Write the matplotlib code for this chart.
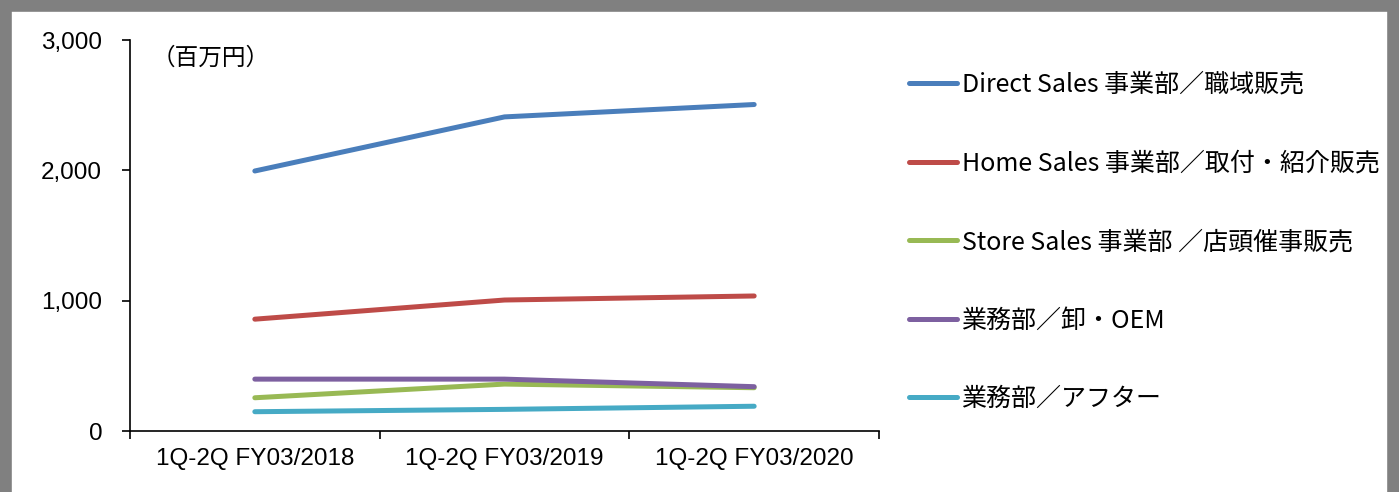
import matplotlib
matplotlib.use("Agg")
import matplotlib.pyplot as plt
from matplotlib.lines import Line2D

plt.rcParams['font.family'] = ['Liberation Sans', 'Noto Sans CJK JP', 'DejaVu Sans']

# 売上高（百万円）
periods = ['1Q-2Q FY03/2018', '1Q-2Q FY03/2019', '1Q-2Q FY03/2020']
direct_sales = [1995, 2410, 2505]
home_sales = [858, 1005, 1036]
store_sales = [255, 360, 332]
oem_sales = [398, 398, 340]
after_sales = [148, 166, 190]

series_names = ['Direct Sales 事業部／職域販売',
                'Home Sales 事業部／取付・紹介販売',
                'Store Sales 事業部 ／店頭催事販売',
                '業務部／卸・OEM',
                '業務部／アフター']
series_values = [direct_sales, home_sales, store_sales, oem_sales, after_sales]
series_colors = ['#4a7ebb', '#be4b48', '#98b954', '#7d60a0', '#46aac5']

W, H = 1399, 492
fig = plt.figure(figsize=(W / 100, H / 100), dpi=100)
ax = fig.add_axes([130 / W, 1 - 431 / H, 749 / W, 391 / H])

x = [0.5, 1.5, 2.5]
for name, vals, col in zip(series_names, series_values, series_colors):
    ax.plot(x, vals, color=col, lw=3.6, solid_capstyle='round', label=name)

ax.set_xlim(0, 3)
ax.set_ylim(0, 3000)
ax.set_yticks([0, 1000, 2000, 3000])
ax.set_yticklabels(['0', '1,000', '2,000', '3,000'])
ax.set_xticks([0, 1, 2, 3])
ax.set_xticklabels([])
ax.set_xticks(x, minor=True)
ax.set_xticklabels(periods, minor=True)
ax.tick_params(axis='x', which='minor', length=0, pad=12, labelsize=17.5)
ax.tick_params(axis='x', which='major', length=6, width=1.2, direction='out')
ax.tick_params(axis='y', length=6, width=1.2, direction='out', pad=14, labelsize=17.5)

for side in ['top', 'right']:
    ax.spines[side].set_visible(False)
for side in ['left', 'bottom']:
    ax.spines[side].set_linewidth(1.2)

ax.text(22 / 749, 0.953, '（百万円）', transform=ax.transAxes,
        fontsize=17, family=['Noto Sans CJK JP', 'DejaVu Sans'], va='center', ha='left')

leg = ax.legend(loc='upper left', bbox_to_anchor=(909 / W, 1 - 72 / H),
                bbox_transform=fig.transFigure, frameon=False,
                prop={'family': ['Noto Sans CJK JP', 'DejaVu Sans'], 'size': 18},
                handlelength=1.9, handletextpad=0.2, labelspacing=2.1,
                borderpad=0, borderaxespad=0)

# gray frame on top, left and right
frame = dict(transform=fig.transFigure, color='#808080', lw=17, clip_on=False)
fig.add_artist(Line2D([0, 1], [1, 1], **frame))
fig.add_artist(Line2D([0, 0], [0, 1], **frame))
fig.add_artist(Line2D([1, 1], [0, 1], **frame))

fig.savefig('out.png', dpi=100)
